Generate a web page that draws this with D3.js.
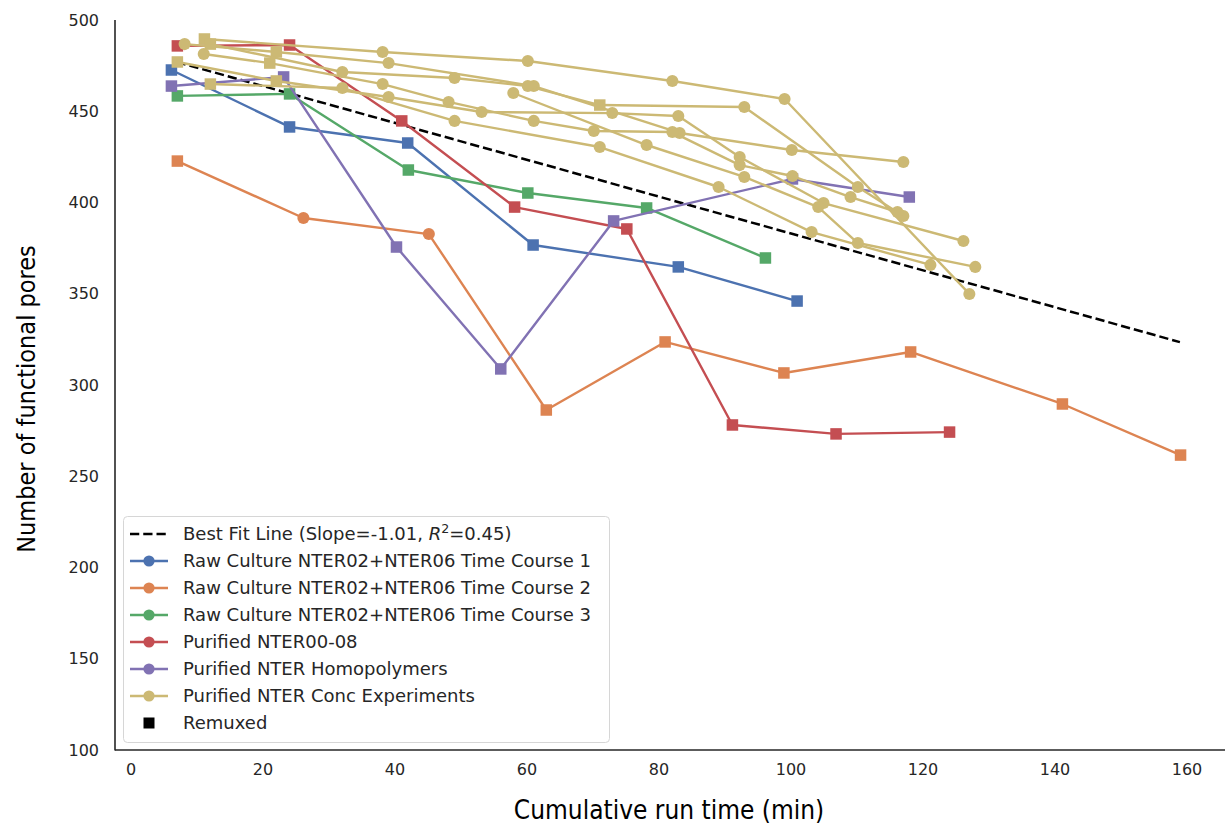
<!DOCTYPE html>
<html><head><meta charset="utf-8">
<script src="https://cdn.jsdelivr.net/npm/d3@7"></script>
<style>body{margin:0;background:#fff} svg{display:block}</style>
</head><body><svg id="c" width="1225" height="826"></svg>
<script>
// ---------- DATA ----------
const xTicks = [0, 20, 40, 60, 80, 100, 120, 140, 160];
const yTicks = [100, 150, 200, 250, 300, 350, 400, 450, 500];

const fitX = [7, 159];
const fitY = [477.0, 323.5];

const legendLabels = [
  "Raw Culture NTER02+NTER06 Time Course 1",
  "Raw Culture NTER02+NTER06 Time Course 2",
  "Raw Culture NTER02+NTER06 Time Course 3",
  "Purified NTER00-08",
  "Purified NTER Homopolymers",
  "Purified NTER Conc Experiments"
];
const seriesColors = ["#4c72b0", "#dd8452", "#55a868", "#c44e52", "#8172b3", "#ccb974"];

// Raw Culture Time Course 1
const tc1X = [6.2, 24.1, 42.0, 61.0, 83.0, 101.0];
const tc1Y = [472.6, 441.4, 432.6, 376.7, 364.7, 346.0];
const tc1R = [1, 1, 1, 1, 1, 1];
// Raw Culture Time Course 2
const tc2X = [7.1, 26.2, 45.2, 63.0, 81.0, 99.0, 118.2, 141.2, 159.1];
const tc2Y = [422.7, 391.5, 382.7, 286.3, 323.6, 306.6, 318.1, 289.6, 261.6];
const tc2R = [1, 0, 0, 1, 1, 1, 1, 1, 1];
// Raw Culture Time Course 3
const tc3X = [7.1, 24.1, 42.1, 60.2, 78.2, 96.2];
const tc3Y = [458.4, 459.5, 417.8, 405.2, 397.0, 369.6];
const tc3R = [1, 1, 1, 1, 1, 1];
// Purified NTER00-08
const p08X = [7.1, 24.1, 41.1, 58.2, 75.2, 91.2, 106.9, 124.1];
const p08Y = [485.8, 486.3, 444.7, 397.5, 385.5, 278.1, 273.2, 274.2];
const p08R = [1, 1, 1, 1, 1, 1, 1, 1];
// Purified NTER Homopolymers
const homX = [6.2, 23.2, 40.3, 56.1, 73.2, 100.3, 118.0];
const homY = [463.8, 468.8, 375.6, 308.8, 389.9, 412.9, 403.0];
const homR = [1, 1, 1, 1, 1, 1, 1];
// Purified NTER Conc Experiments (several runs)
const concAX = [11.2, 38.2, 60.2, 82.1, 99.1, 127.1];
const concAY = [489.6, 482.5, 477.5, 466.6, 456.7, 349.9];
const concAR = [1, 0, 0, 0, 0, 0];
const concBX = [8.2, 22.1, 39.1, 61.1, 83.2, 100.2, 117.1];
const concBY = [486.8, 482.5, 476.4, 463.8, 438.1, 428.8, 422.2];
const concBR = [0, 1, 0, 0, 0, 0, 0];
const concCX = [12.1, 32.1, 49.1, 60.2, 71.1, 93.0, 110.2, 117.1];
const concCY = [486.8, 471.5, 468.2, 463.8, 453.4, 452.3, 408.5, 392.6];
const concCR = [1, 0, 0, 0, 1, 0, 0, 0];
const concDX = [11.1, 21.1, 38.2, 48.2, 61.1, 70.2, 82.1, 92.3, 100.3, 109.1, 116.2];
const concDY = [481.4, 476.4, 464.9, 455.1, 444.7, 439.2, 438.6, 420.5, 414.5, 403.0, 394.8];
const concDR = [0, 1, 0, 0, 0, 0, 0, 0, 0, 0, 0];
const concEX = [7.1, 22.1, 39.1, 53.2, 73.0, 83.0, 92.3, 105.0, 126.2];
const concEY = [477.0, 466.6, 457.8, 449.6, 449.0, 447.4, 424.9, 399.7, 378.9];
const concER = [1, 1, 0, 0, 0, 0, 0, 0, 0];
const concFX = [12.1, 32.1, 49.1, 71.1, 89.1, 103.2, 121.2];
const concFY = [464.9, 462.7, 444.7, 430.4, 408.5, 383.8, 365.8];
const concFR = [1, 0, 0, 0, 0, 0, 0];
const concGX = [58.0, 78.2, 93.0, 104.2, 110.2, 128.0];
const concGY = [460.0, 431.5, 414.0, 397.5, 377.8, 364.7];
const concGR = [0, 0, 0, 0, 0, 0];

// ---------- BUILD ----------
const zip = (xs, ys, rs) => xs.map((x, i) => ({x, y: ys[i], r: rs[i]}));
const groups = [
  {c: 0, runs: [zip(tc1X, tc1Y, tc1R)]},
  {c: 1, runs: [zip(tc2X, tc2Y, tc2R)]},
  {c: 2, runs: [zip(tc3X, tc3Y, tc3R)]},
  {c: 3, runs: [zip(p08X, p08Y, p08R)]},
  {c: 4, runs: [zip(homX, homY, homR)]},
  {c: 5, runs: [
    zip(concAX, concAY, concAR), zip(concBX, concBY, concBR), zip(concCX, concCY, concCR),
    zip(concDX, concDY, concDR), zip(concEX, concEY, concER), zip(concFX, concFY, concFR),
    zip(concGX, concGY, concGR)]}
];

const svg = d3.select("#c");
const x = d3.scaleLinear().domain([0, 160]).range([130.5, 1186.5]);
const y = d3.scaleLinear().domain([100, 500]).range([750, 20]);
const plotLeft = 115, plotRight = 1225;

const tickFont = "DejaVu Sans, sans-serif";
const textCol = "#262626";

// axes
const xAxis = d3.axisBottom(x).tickValues(xTicks).tickSize(0).tickPadding(14).tickFormat(d3.format("d"));
const yAxis = d3.axisLeft(y).tickValues(yTicks).tickSize(0).tickPadding(16).tickFormat(d3.format("d"));
const gx = svg.append("g").attr("transform", "translate(0,750)").call(xAxis);
const gy = svg.append("g").attr("transform", "translate(115,0)").call(yAxis);
[gx, gy].forEach(g => {
  g.select(".domain").remove();
  g.selectAll("text").attr("font-family", tickFont).attr("font-size", 16).attr("fill", textCol);
});

// spines
svg.append("line").attr("x1", plotLeft).attr("x2", plotLeft).attr("y1", 20).attr("y2", 750.5)
  .attr("stroke", "#262626").attr("stroke-width", 1.6);
svg.append("line").attr("x1", plotLeft).attr("x2", plotRight).attr("y1", 750).attr("y2", 750)
  .attr("stroke", "#262626").attr("stroke-width", 1.6);

// clip
svg.append("clipPath").attr("id", "clip").append("rect")
  .attr("x", plotLeft).attr("y", 0).attr("width", plotRight - plotLeft).attr("height", 750);
const plot = svg.append("g").attr("clip-path", "url(#clip)");

// fit line
const line = d3.line().x(d => x(d.x)).y(d => y(d.y));
plot.append("path").datum(fitX.map((v, i) => ({x: v, y: fitY[i]})))
  .attr("d", line).attr("fill", "none").attr("stroke", "#000")
  .attr("stroke-width", 2.5).attr("stroke-dasharray", "9.25,4");

// series
const ms = 11.5;
groups.forEach(g => {
  const col = seriesColors[g.c];
  g.runs.forEach(run => {
    plot.append("path").datum(run).attr("d", line).attr("fill", "none")
      .attr("stroke", col).attr("stroke-width", 2.4).attr("stroke-linejoin", "round");
    run.forEach(p => {
      if (p.r) {
        plot.append("rect").attr("x", x(p.x) - ms / 2).attr("y", y(p.y) - ms / 2)
          .attr("width", ms).attr("height", ms).attr("fill", col);
      } else {
        plot.append("circle").attr("cx", x(p.x)).attr("cy", y(p.y)).attr("r", ms / 2 + 0.3).attr("fill", col);
      }
    });
  });
});

// legend
const lg = svg.append("g");
lg.append("rect").attr("x", 123.5).attr("y", 516.5).attr("width", 486).attr("height", 226)
  .attr("rx", 4).attr("fill", "#fff").attr("fill-opacity", 0.85).attr("stroke", "#d6d6d6").attr("stroke-width", 1);
const rowY = i => 534 + i * 27;
const lgFont = 18;
// fit entry
lg.append("line").attr("x1", 130).attr("x2", 168).attr("y1", rowY(0)).attr("y2", rowY(0))
  .attr("stroke", "#000").attr("stroke-width", 2.5).attr("stroke-dasharray", "9.25,4");
const t0 = lg.append("text").attr("x", 183).attr("y", rowY(0)).attr("dy", "0.35em")
  .attr("font-family", tickFont).attr("font-size", lgFont).attr("fill", textCol);
t0.append("tspan").text("Best Fit Line (Slope=-1.01, ");
t0.append("tspan").attr("font-style", "italic").text("R");
t0.append("tspan").attr("font-size", lgFont * 0.7).attr("dy", "-0.6em").text("2");
t0.append("tspan").attr("dy", "0.42em").text("=0.45)");
legendLabels.forEach((lab, i) => {
  const yy = rowY(i + 1);
  lg.append("line").attr("x1", 130).attr("x2", 168).attr("y1", yy).attr("y2", yy)
    .attr("stroke", seriesColors[i]).attr("stroke-width", 2.4);
  lg.append("circle").attr("cx", 149).attr("cy", yy).attr("r", 5.6).attr("fill", seriesColors[i]);
  lg.append("text").attr("x", 183).attr("y", yy).attr("dy", "0.35em")
    .attr("font-family", tickFont).attr("font-size", lgFont).attr("fill", textCol).text(lab);
});
lg.append("rect").attr("x", 149 - 5.5).attr("y", rowY(7) - 5.5).attr("width", 11).attr("height", 11).attr("fill", "#000");
lg.append("text").attr("x", 183).attr("y", rowY(7)).attr("dy", "0.35em")
  .attr("font-family", tickFont).attr("font-size", lgFont).attr("fill", textCol).text("Remuxed");

// axis labels
const labFont = "'Liberation Sans Narrow', 'DejaVu Sans Condensed', sans-serif";
svg.append("text").attr("x", 669).attr("y", 819).attr("text-anchor", "middle")
  .attr("font-family", labFont).attr("font-size", 26).attr("fill", "#000").text("Cumulative run time (min)");
svg.append("text").attr("transform", "translate(35,399) rotate(-90)").attr("text-anchor", "middle")
  .attr("font-family", labFont).attr("font-size", 25).attr("fill", "#000").text("Number of functional pores");
</script></body></html>
